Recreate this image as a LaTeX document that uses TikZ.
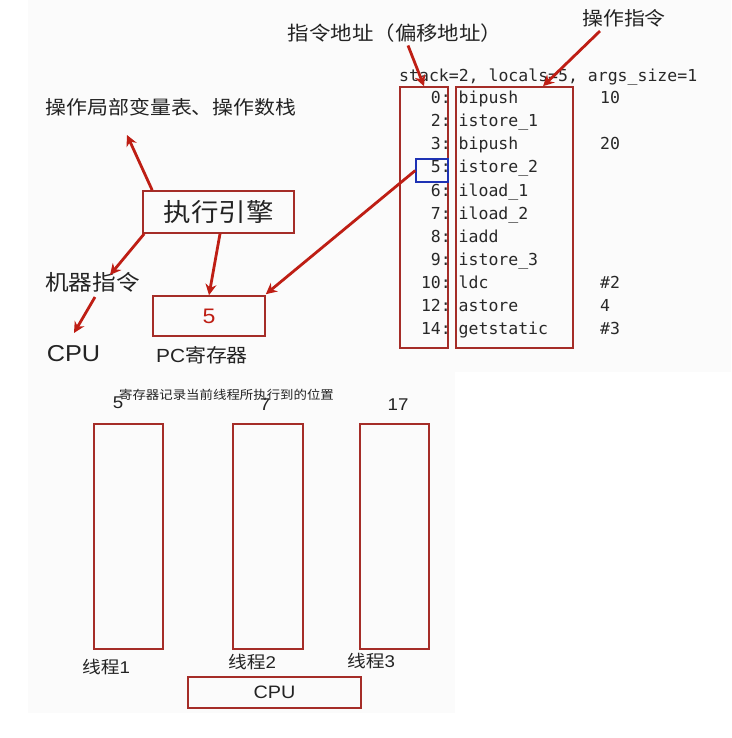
\documentclass[tikz,border=0pt]{standalone}
\usepackage{fontspec}
\setmainfont[FakeStretch=1.1]{Liberation Sans}
\newfontfamily\cjk[FakeStretch=1.1]{Noto Sans CJK SC}
\setmonofont{DejaVu Sans Mono}
\usetikzlibrary{arrows.meta}
\definecolor{boxred}{RGB}{165,45,40}
\definecolor{arrred}{RGB}{190,30,20}
\definecolor{txt}{RGB}{35,35,35}
\definecolor{codetxt}{RGB}{40,40,40}
\definecolor{codeblue}{RGB}{30,50,180}
\definecolor{panel}{RGB}{251,251,251}
\newcommand{\fs}[1]{\fontsize{#1}{#1}\selectfont}
\tikzset{
  redbox/.style={draw=boxred, line width=1.6pt, inner sep=0pt},
  arr/.style={draw=arrred, line width=2.8pt, -{Stealth[length=11pt,width=11pt]}},
  lbl/.style={text=txt, inner sep=0pt},
  code/.style={text=codetxt, inner sep=0pt, font=\ttfamily\fs{16.5}},
}
\begin{document}
\begin{tikzpicture}[x=1pt,y=-1pt]
\useasboundingbox (0,0) rectangle (731,738);
\fill[panel] (28,0) rectangle (731,372);
\fill[panel] (28,372) rectangle (455,713);

% upper left part
\node[lbl, font=\cjk\fs{19}] (ops) at (171,107) {操作局部变量表、操作数栈};
\node[redbox, minimum width=151pt, minimum height=42pt, text=txt, font=\cjk\fs{25}] (eng) at (218.5,212) {执行引擎};
\node[lbl, font=\cjk\fs{21.5}] (mi) at (92.5,282) {机器指令};
\node[lbl, font=\fs{23}] (cpu1) at (73.5,354) {CPU};
\node[redbox, minimum width=112pt, minimum height=40pt, text=arrred, font=\fs{21}] (pc) at (209,316) {5};
\node[lbl, font=\fs{19}] (pcl) at (202,355) {PC{\cjk 寄存器}};

% upper right part
\node[lbl, font=\cjk\fs{19.5}] (addr) at (395,33) {指令地址（偏移地址）};
\node[lbl, font=\cjk\fs{19}] (opc) at (624,18) {操作指令};
\node[code, anchor=mid west] (hdr) at (399,79) {stack=2, locals=5, args\_size=1};
\node[redbox, minimum width=48pt, minimum height=261pt] (addrbox) at (424,217.5) {};
\node[redbox, minimum width=117pt, minimum height=261pt] (insbox) at (514.5,217.5) {};
\node[draw=codeblue, line width=1.4pt, inner sep=0pt, minimum width=32pt, minimum height=23pt] (cur) at (432,170.5) {};

\foreach \n/\ins/\arg [count=\i from 0] in {0/bipush/10, 2/istore\_1/, 3/bipush/20, 5/istore\_2/, 6/iload\_1/, 7/iload\_2/, 8/iadd/, 9/istore\_3/, 10/ldc/\#2, 12/astore/4, 14/getstatic/\#3}{
  \node[code, anchor=mid east] (n\i) at (451,{101+23.1*\i}) {\n:};
  \node[code, anchor=mid west] (ins\i) at (458.5,{101+23.1*\i}) {\ins};
  \node[code, anchor=mid west] (arg\i) at (600,{101+23.1*\i}) {\arg};
}

% free arrow ends
\coordinate (opsArr) at (127,135);
\coordinate (miTip) at (110,275);
\coordinate (miBot) at (95,297);
\coordinate (cpuTip) at (74,333);

\draw[arr] ([xshift=10pt]eng.north west) -- (opsArr);
\draw[arr] ([xshift=2pt]eng.south west) -- (miTip);
\draw[arr] ([xshift=1.5pt]eng.south) -- (pc.north);
\draw[arr] (miBot) -- (cpuTip);
\draw[arr] (cur.west) -- ([yshift=1pt]pc.north east);
\draw[arr] ([xshift=13pt,yshift=-3pt]addr.south) -- (addrbox.north);
\draw[arr] ([xshift=-24pt,yshift=-4pt]opc.south) -- ([xshift=28.5pt]insbox.north);

% lower part
\node[lbl, font=\cjk\fs{12.2}] (note) at (226.5,395) {寄存器记录当前线程所执行到的位置};
\node[lbl, font=\fs{17}] (p1) at (118,403) {5};
\node[lbl, font=\fs{17}] (p2) at (265,405) {7};
\node[lbl, font=\fs{17}] (p3) at (398,405) {17};
\node[redbox, minimum width=69pt, minimum height=225pt] (t1) at (128.5,536.5) {};
\node[redbox, minimum width=70pt, minimum height=225pt] (t2) at (268,536.5) {};
\node[redbox, minimum width=69pt, minimum height=225pt] (t3) at (394.5,536.5) {};
\node[lbl, font=\fs{17}] (l1) at (106,667) {{\cjk 线程}1};
\node[lbl, font=\fs{17}] (l2) at (252,662) {{\cjk 线程}2};
\node[lbl, font=\fs{17}] (l3) at (371,661) {{\cjk 线程}3};
\node[redbox, minimum width=173pt, minimum height=31pt, text=txt, font=\fs{18}] (cpu2) at (274.5,692.5) {CPU};
\end{tikzpicture}
\end{document}
